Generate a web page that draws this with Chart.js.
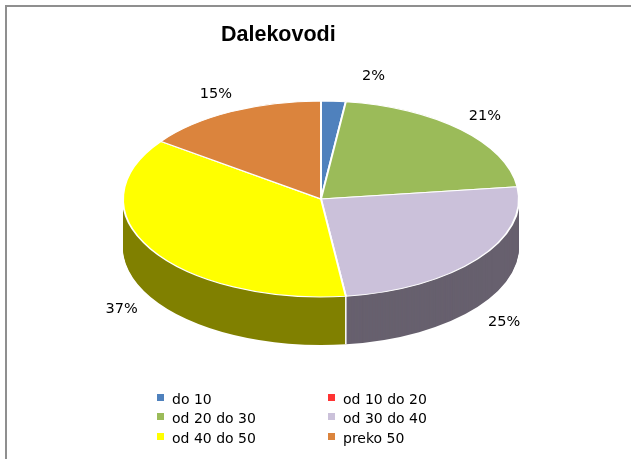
<!DOCTYPE html>
<html>
<head>
<meta charset="utf-8">
<script src="https://cdn.jsdelivr.net/npm/chart.js@4.4.0/dist/chart.umd.min.js"></script>
<style>
html, body { margin: 0; padding: 0; background: #fff; overflow: hidden; width: 631px; height: 459px; }
#frame { position: absolute; left: 5px; top: 5px; width: 700px; height: 600px; border: 2px solid #8f8f8f; }
canvas { position: absolute; left: 0; top: 0; }
#title { position: absolute; left: 221px; top: 23.5px; font: bold 21.5px "Liberation Sans"; line-height: 1; color: #000; }
#legend { position: absolute; left: 157px; top: 389.7px; font: 14px "DejaVu Sans"; line-height: 19.5px; color: #000;
          display: grid; grid-template-columns: 171px auto; }
.item { position: relative; padding-left: 15px; white-space: nowrap; }
.item i { position: absolute; left: 0; top: 4.3px; width: 7px; height: 7px; }
</style>
</head>
<body>
<div id="frame"></div>
<canvas id="c" width="631" height="459"></canvas>
<div id="title">Dalekovodi</div>
<div id="legend"></div>
<script>
// values (percent)
const categories = ['do 10', 'od 10 do 20', 'od 20 do 30', 'od 30 do 40', 'od 40 do 50', 'preko 50'];
const shares = [2, 0, 21, 25, 37, 15];
const topColors = ['#4f81bd', '#ff3333', '#9bbb59', '#cbc1da', '#ffff00', '#db843d'];
const sideColors = ['#28415f', '#801a1a', '#4e5e2d', '#67606e', '#808000', '#6e421f'];

// fake 3d: squash the pie and stack darker copies under it
const squash = 98 / 198;
const depth = 48;
const labelNudge = { 0: [38, -5] }; // Excel pushes the tiny slice label sideways

function flatten(ctx, cx, cy, dy) {
    ctx.translate(cx, cy + dy);
    ctx.scale(1, squash);
    ctx.translate(-cx, -cy);
}

function drawWith(arc, patch, ctx) {
    const o = arc.options;
    arc.options = Object.assign({}, o, patch);
    arc.draw(ctx);
    arc.options = o;
}

const pie3d = {
    id: 'pie3d',
    beforeDatasetsDraw(chart) {
        const ctx = chart.ctx;
        const arcs = chart.getDatasetMeta(0).data;
        const cx = arcs[0].x, cy = arcs[0].y, r = arcs[0].outerRadius;
        for (let d = depth; d > 0; d--) {
            ctx.save();
            flatten(ctx, cx, cy, d);
            arcs.forEach((arc, i) => drawWith(arc, { backgroundColor: sideColors[i], borderWidth: 0 }, ctx));
            ctx.restore();
        }
        // white seams on the front wall
        ctx.save();
        ctx.strokeStyle = '#fff';
        ctx.lineWidth = 1.5;
        arcs.forEach(arc => {
            if (!arc.circumference) return;
            const a = arc.startAngle;
            if (Math.sin(a) <= 0) return;
            const x = cx + Math.cos(a) * r, y = cy + Math.sin(a) * r * squash;
            ctx.beginPath();
            ctx.moveTo(x, y);
            ctx.lineTo(x, y + depth);
            ctx.stroke();
        });
        ctx.restore();
        ctx.save();
        flatten(ctx, cx, cy, 0);
    },
    afterDatasetsDraw(chart) {
        const ctx = chart.ctx;
        ctx.restore();
        const arcs = chart.getDatasetMeta(0).data;
        const cx = arcs[0].x, cy = arcs[0].y, r = arcs[0].outerRadius;
        ctx.save();
        ctx.font = '14.5px "DejaVu Sans"';
        ctx.fillStyle = '#000';
        ctx.textAlign = 'center';
        ctx.textBaseline = 'alphabetic';
        arcs.forEach((arc, i) => {
            if (!shares[i]) return;
            const a = (arc.startAngle + arc.endAngle) / 2;
            const s = Math.sin(a);
            let x = cx + Math.cos(a) * r * 1.17;
            let y = cy + s * r * squash * 1.22 + (s > 0 ? depth : 0);
            if (labelNudge[i]) { x += labelNudge[i][0]; y += labelNudge[i][1]; }
            ctx.fillText(shares[i] + '%', x, y + 5.3);
        });
        ctx.restore();
    }
};

new Chart(document.getElementById('c'), {
    type: 'pie',
    data: {
        labels: categories,
        datasets: [{
            data: shares,
            backgroundColor: topColors,
            borderColor: '#fff',
            borderWidth: 2,
            radius: 198
        }]
    },
    options: {
        responsive: false,
        animation: false,
        events: [],
        layout: { padding: { left: 11, right: 0, top: 0, bottom: 61 } },
        plugins: { legend: { display: false }, tooltip: { enabled: false } }
    },
    plugins: [pie3d]
});

// legend as html, two columns like Excel
const legend = document.getElementById('legend');
categories.forEach((name, i) => {
    const item = document.createElement('div');
    item.className = 'item';
    item.innerHTML = '<i style="background:' + topColors[i] + '"></i>' + name;
    legend.appendChild(item);
});
</script>
</body>
</html>
